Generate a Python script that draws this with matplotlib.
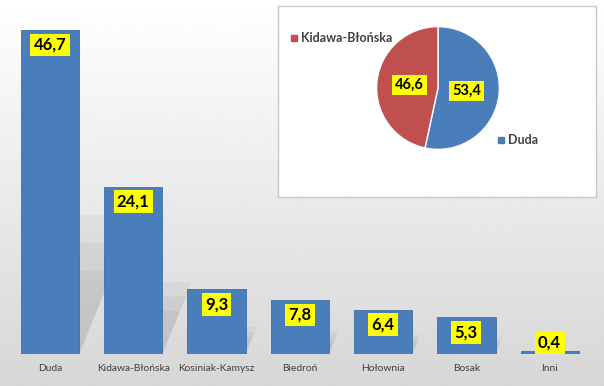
import numpy as np
import matplotlib.pyplot as plt
from matplotlib.patches import Polygon

plt.rcParams['font.family'] = ['Lato', 'DejaVu Sans']

# bar chart data
candidates = ['Duda', 'Kidawa-Błońska', 'Kosiniak-Kamysz', 'Biedroń', 'Hołownia', 'Bosak', 'Inni']
votes = [46.7, 24.1, 9.3, 7.8, 6.4, 5.3, 0.4]

# second round (pie)
pie_names = ['Duda', 'Kidawa-Błońska']
pie_values = [53.4, 46.6]

blue = '#4A7EBB'
red = '#C0504D'
yellow = '#FFFF00'
bar_w = 0.7

fig = plt.figure(figsize=(6.04, 3.86), dpi=100)

# background gradient
bg = fig.add_axes([0, 0, 1, 1], zorder=-10)
grad = np.linspace(1.0, 0.84, 256).reshape(-1, 1)
bg.imshow(grad, aspect='auto', cmap='gray', vmin=0, vmax=1, extent=[0, 1, 0, 1])
bg.axis('off')

# bars
ax = fig.add_axes([8.3 / 604, 32 / 386, 583 / 604, 354 / 386])
ax.patch.set_alpha(0)
x = np.arange(len(candidates))
bars = ax.bar(x, votes, width=bar_w, color=blue, edgecolor='#3E6FA8', linewidth=0.6, zorder=3)
ax.set_xlim(-0.5, len(candidates) - 0.5)
ax.set_ylim(0, 51)
for s in ax.spines.values():
    s.set_visible(False)
ax.set_yticks([])
ax.set_xticks(x)
ax.set_xticklabels(candidates, fontsize=7.4, color='#404040')
ax.tick_params(axis='x', length=0, pad=7)

# soft shadows cast up-right behind the bars
for i, v in enumerate(votes):
    xr = i + bar_w / 2
    xl = i - bar_w / 2
    sh = 0.43 * v
    dx = 0.0147 * v
    for k in [1.0, 0.8, 0.6]:
        poly = Polygon([(xl, 0), (xr, 0), (xr + dx * k, sh * k), (xl + dx * k, sh * k)],
                       closed=True, fc='#404040', ec='none', alpha=0.05, zorder=2)
        ax.add_patch(poly)

for i, v in enumerate(votes):
    lbl = f'{v:.1f}'.replace('.', ',')
    if v > 2:
        off = -15
    else:
        off = 9
    ax.annotate(lbl, (i, v), xytext=(0, off), textcoords='offset pixels',
                ha='center', va='center', fontsize=12, fontweight='bold', color='black',
                bbox=dict(boxstyle='square,pad=0.2', fc=yellow, ec='none'), zorder=5)

# inset box
box = fig.add_axes([278 / 604, 189 / 386, 318 / 604, 191 / 386], zorder=5)
box.set_xticks([])
box.set_yticks([])
box.set_facecolor('white')
for s in box.spines.values():
    s.set_color('#C8C8C8')
    s.set_linewidth(1.0)
box.set_xlim(0, 1)
box.set_ylim(0, 1)

# pie
pax = fig.add_axes([376 / 604, 236 / 386, 124 / 604, 124 / 386], zorder=6)
wedges, texts, autotexts = pax.pie(
    pie_values, colors=[blue, red], startangle=90, counterclock=False,
    wedgeprops=dict(edgecolor='white', linewidth=1.0),
    autopct=lambda p: f'{p:.1f}'.replace('.', ','), pctdistance=0.47)
for t in autotexts:
    t.set_fontsize(10.5)
    t.set_fontweight('bold')
    t.set_color('black')
    t.set_bbox(dict(boxstyle='square,pad=0.2', fc=yellow, ec='none'))
pax.set_aspect('equal')
pax.set_xlim(-1.01, 1.01)
pax.set_ylim(-1.01, 1.01)

# legend-like labels inside the box
box.plot([0.05], [0.83], marker='s', ms=4, color=red, transform=box.transAxes)
box.text(0.072, 0.83, pie_names[1], fontsize=9, color='#404040', va='center', ha='left',
         fontweight='bold', transform=box.transAxes)
box.plot([0.702], [0.30], marker='s', ms=4, color=blue, transform=box.transAxes)
box.text(0.724, 0.30, pie_names[0], fontsize=9, color='#404040', va='center', ha='left',
         fontweight='bold', transform=box.transAxes)

fig.savefig('out.png', dpi=100)
